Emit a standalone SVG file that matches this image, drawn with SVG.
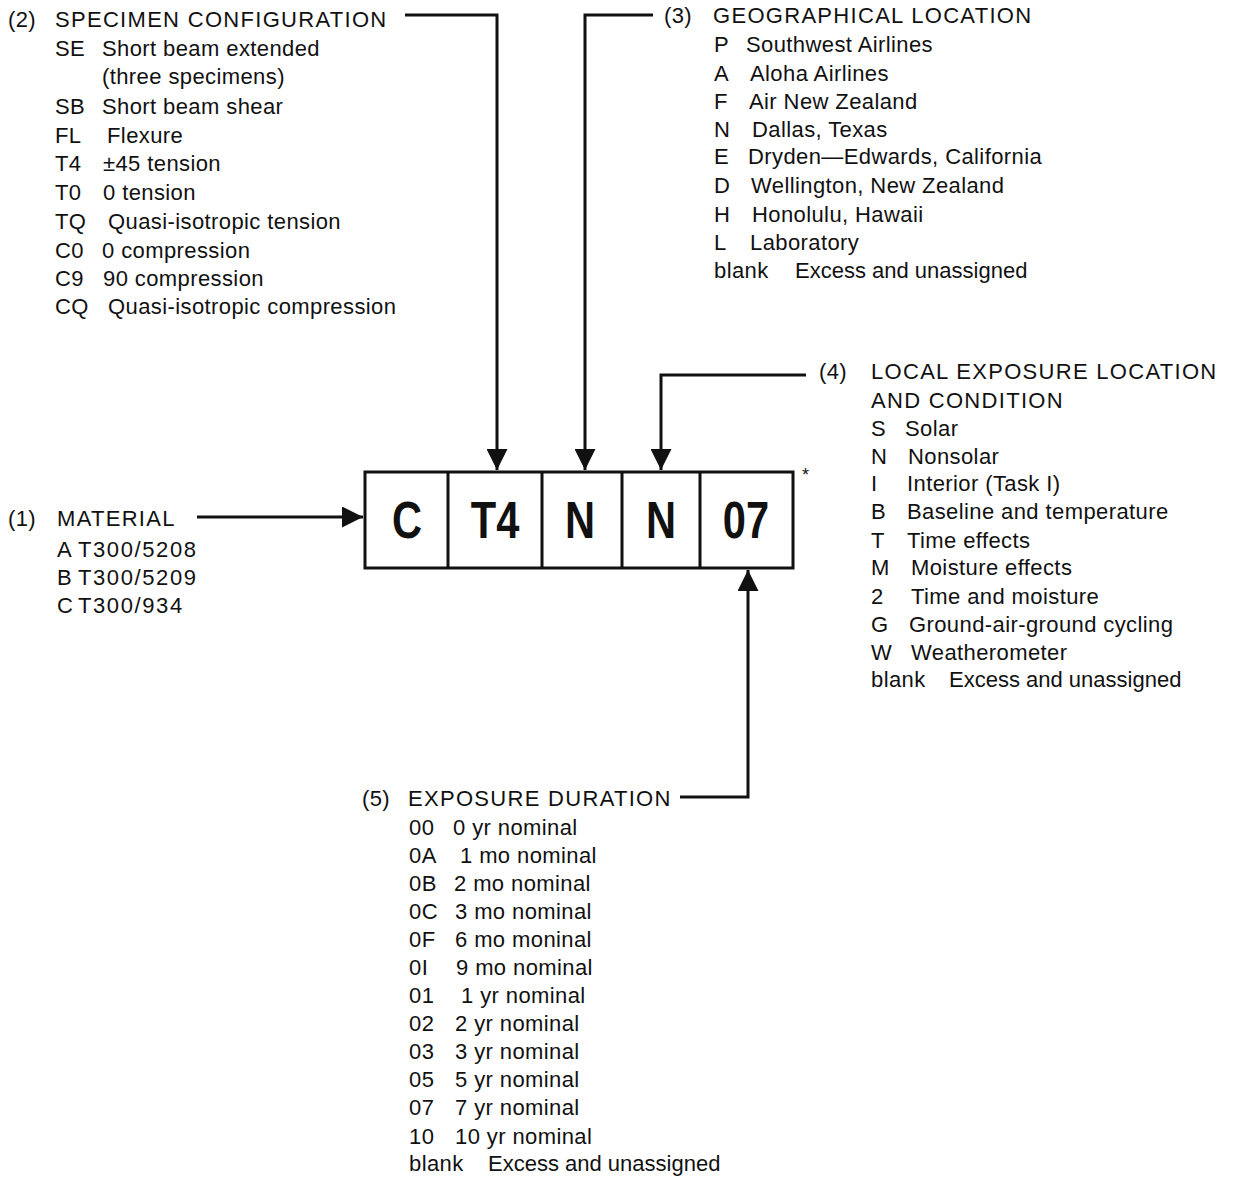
<svg xmlns="http://www.w3.org/2000/svg" width="1234" height="1177" viewBox="0 0 1234 1177">
<style>
.t{font-family:"Liberation Sans",Arial,sans-serif;font-size:22px;letter-spacing:0.4px;fill:#111;}
.h{letter-spacing:1.3px;}
.x{letter-spacing:0px;}
.m{letter-spacing:1.6px;}
.b{font-family:"Liberation Sans",Arial,sans-serif;font-size:52px;font-weight:bold;fill:#111;text-anchor:middle;}
.ln{stroke:#111;stroke-width:3;fill:none;}
.box{stroke:#111;stroke-width:3;fill:#fff;}
</style>
<defs>
<marker id="ah" viewBox="0 0 10 10" refX="10" refY="5" markerWidth="7" markerHeight="7" orient="auto" markerUnits="strokeWidth">
<path d="M0,0 L10,5 L0,10 z" fill="#111"/>
</marker>
</defs>
<rect width="1234" height="1177" fill="#fff"/>
<g id="code">
<rect class="box" x="365" y="472" width="428" height="96"/>
<line class="ln" x1="448" y1="472" x2="448" y2="568"/>
<line class="ln" x1="542" y1="472" x2="542" y2="568"/>
<line class="ln" x1="622" y1="472" x2="622" y2="568"/>
<line class="ln" x1="700" y1="472" x2="700" y2="568"/>
<text class="b" transform="translate(407,538) scale(0.8,1)">C</text>
<text class="b" transform="translate(495,538) scale(0.8,1)">T4</text>
<text class="b" transform="translate(580,538) scale(0.8,1)">N</text>
<text class="b" transform="translate(661,538) scale(0.8,1)">N</text>
<text class="b" transform="translate(746,538) scale(0.8,1)">07</text>
<text class="t" x="802" y="481" style="font-size:18px">*</text>
</g>
<g id="connectors">
<path class="ln" d="M405,15 H497 V470" marker-end="url(#ah)"/>
<path class="ln" d="M653,15 H585 V470" marker-end="url(#ah)"/>
<path class="ln" d="M806,375 H661 V470" marker-end="url(#ah)"/>
<path class="ln" d="M197,517 H363" marker-end="url(#ah)"/>
<path class="ln" d="M680,797 H748 V570" marker-end="url(#ah)"/>
</g>
<g id="material">
<text class="t" x="8" y="526">(1)</text>
<text class="t h" x="57" y="526">MATERIAL</text>
<text class="t" x="57" y="557">A</text><text class="t m" x="78" y="557">T300/5208</text>
<text class="t" x="57" y="585">B</text><text class="t m" x="78" y="585">T300/5209</text>
<text class="t" x="57" y="613">C</text><text class="t m" x="78" y="613">T300/934</text>
</g>
<g id="specimen">
<text class="t" x="8" y="27">(2)</text>
<text class="t h" x="55" y="27">SPECIMEN CONFIGURATION</text>
<text class="t" x="55" y="56">SE</text><text class="t" x="102" y="56">Short beam extended</text>
<text class="t" x="102" y="84">(three specimens)</text>
<text class="t" x="55" y="114">SB</text><text class="t" x="102" y="114">Short beam shear</text>
<text class="t" x="55" y="143">FL</text><text class="t" x="107" y="143">Flexure</text>
<text class="t" x="55" y="171">T4</text><text class="t" x="103" y="171">±45 tension</text>
<text class="t" x="55" y="200">T0</text><text class="t" x="103" y="200">0 tension</text>
<text class="t" x="55" y="229">TQ</text><text class="t" x="108" y="229">Quasi-isotropic tension</text>
<text class="t" x="55" y="258">C0</text><text class="t" x="102" y="258">0 compression</text>
<text class="t" x="55" y="286">C9</text><text class="t" x="103" y="286">90 compression</text>
<text class="t" x="55" y="314">CQ</text><text class="t" x="108" y="314">Quasi-isotropic compression</text>
</g>
<g id="geographical">
<text class="t" x="664" y="23">(3)</text>
<text class="t h" x="713" y="23">GEOGRAPHICAL LOCATION</text>
<text class="t" x="714" y="52">P</text><text class="t" x="746" y="52">Southwest Airlines</text>
<text class="t" x="714" y="81">A</text><text class="t" x="750" y="81">Aloha Airlines</text>
<text class="t" x="714" y="109">F</text><text class="t" x="749" y="109">Air New Zealand</text>
<text class="t" x="714" y="137">N</text><text class="t" x="752" y="137">Dallas, Texas</text>
<text class="t" x="714" y="164">E</text><text class="t" x="748" y="164">Dryden—Edwards, California</text>
<text class="t" x="714" y="193">D</text><text class="t" x="751" y="193">Wellington, New Zealand</text>
<text class="t" x="714" y="222">H</text><text class="t" x="752" y="222">Honolulu, Hawaii</text>
<text class="t" x="714" y="250">L</text><text class="t" x="750" y="250">Laboratory</text>
<text class="t" x="714" y="278">blank</text><text class="t x" x="795" y="278">Excess and unassigned</text>
</g>
<g id="local">
<text class="t" x="819" y="379">(4)</text>
<text class="t h" x="871" y="379">LOCAL EXPOSURE LOCATION</text>
<text class="t h" x="871" y="408">AND CONDITION</text>
<text class="t" x="871" y="436">S</text><text class="t" x="905" y="436">Solar</text>
<text class="t" x="871" y="464">N</text><text class="t" x="908" y="464">Nonsolar</text>
<text class="t" x="871" y="491">I</text><text class="t" x="907" y="491">Interior (Task I)</text>
<text class="t" x="871" y="519">B</text><text class="t" x="907" y="519">Baseline and temperature</text>
<text class="t" x="871" y="548">T</text><text class="t" x="907" y="548">Time effects</text>
<text class="t" x="871" y="575">M</text><text class="t" x="911" y="575">Moisture effects</text>
<text class="t" x="871" y="604">2</text><text class="t" x="911" y="604">Time and moisture</text>
<text class="t" x="871" y="632">G</text><text class="t" x="909" y="632">Ground-air-ground cycling</text>
<text class="t" x="871" y="660">W</text><text class="t" x="911" y="660">Weatherometer</text>
<text class="t" x="871" y="687">blank</text><text class="t x" x="949" y="687">Excess and unassigned</text>
</g>
<g id="duration">
<text class="t" x="362" y="806">(5)</text>
<text class="t h" x="408" y="806">EXPOSURE DURATION</text>
<text class="t" x="409" y="835">00</text><text class="t" x="453" y="835">0 yr nominal</text>
<text class="t" x="409" y="863">0A</text><text class="t" x="460" y="863">1 mo nominal</text>
<text class="t" x="409" y="891">0B</text><text class="t" x="454" y="891">2 mo nominal</text>
<text class="t" x="409" y="919">0C</text><text class="t" x="455" y="919">3 mo nominal</text>
<text class="t" x="409" y="947">0F</text><text class="t" x="455" y="947">6 mo moninal</text>
<text class="t" x="409" y="975">0I</text><text class="t" x="456" y="975">9 mo nominal</text>
<text class="t" x="409" y="1003">01</text><text class="t" x="461" y="1003">1 yr nominal</text>
<text class="t" x="409" y="1031">02</text><text class="t" x="455" y="1031">2 yr nominal</text>
<text class="t" x="409" y="1059">03</text><text class="t" x="455" y="1059">3 yr nominal</text>
<text class="t" x="409" y="1087">05</text><text class="t" x="455" y="1087">5 yr nominal</text>
<text class="t" x="409" y="1115">07</text><text class="t" x="455" y="1115">7 yr nominal</text>
<text class="t" x="409" y="1144">10</text><text class="t" x="455" y="1144">10 yr nominal</text>
<text class="t" x="409" y="1171">blank</text><text class="t x" x="488" y="1171">Excess and unassigned</text>
</g>
</svg>
